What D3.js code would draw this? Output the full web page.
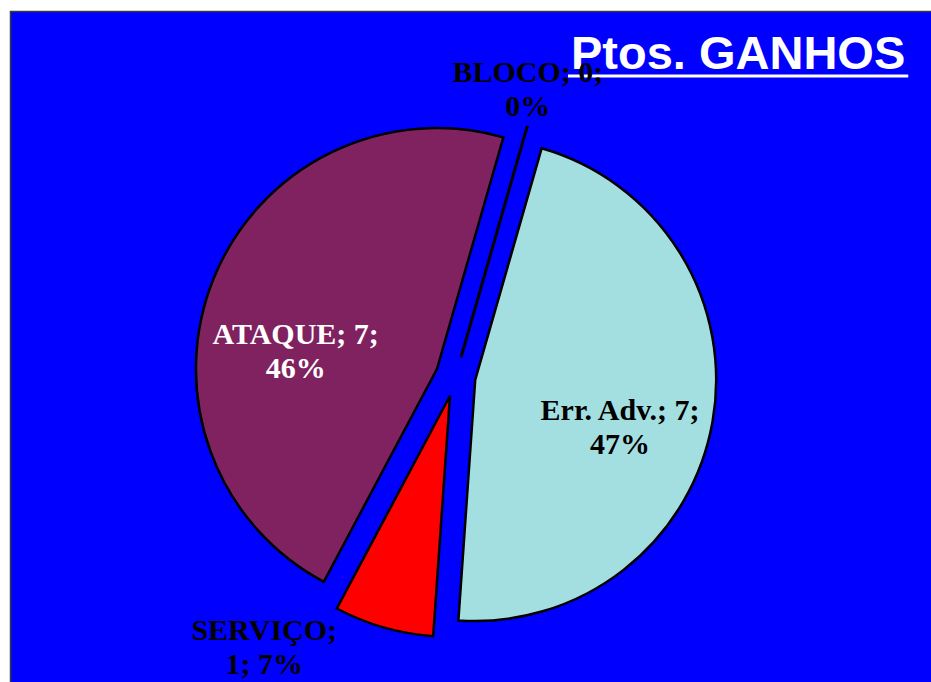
<!DOCTYPE html>
<html>
<head>
<meta charset="utf-8">
<script src="https://cdn.jsdelivr.net/npm/d3@7"></script>
<style>
  html, body { margin: 0; padding: 0; background: #ffffff; overflow: hidden; }
  svg { display: block; }
</style>
</head>
<body>
<svg id="chart" width="931" height="682"></svg>
<script>
// Points won, by origin
const categories = ["BLOCO", "Err. Adv.", "SERVIÇO", "ATAQUE"];
const values = [0, 7, 1, 7];
const percentLabels = ["0%", "47%", "7%", "46%"];
// how many words of each data label sit on its first line
const firstLineWords = [2, 3, 1, 2];

const sliceColors = ["#808080", "#a3dfe0", "#ff0000", "#7f225f"];
const labelColors = ["#000000", "#000000", "#000000", "#ffffff"];
// label anchor: [degrees clockwise from 12 o'clock, distance from pie centre]
const labelAnchor = [[14.1, 297], [106.9, 172], [215.3, 331], [279.4, 162]];

const W = 931, H = 682;
const cx = 455.5, cy = 376.5, radius = 241;
const explodeDist = 20;
const startDeg = 16;

const svg = d3.select("#chart");

// panel
svg.append("rect")
  .attr("x", 10.5).attr("y", 11.5)
  .attr("width", W).attr("height", H)
  .attr("fill", "#0000ff")
  .attr("stroke", "#3a3a3a")
  .attr("stroke-width", 1.5);

const rows = categories.map((c, i) => ({
  category: c, value: values[i], pct: percentLabels[i], i
}));

const pie = d3.pie()
  .value(d => d.value)
  .sort(null)
  .startAngle(startDeg * Math.PI / 180)
  .endAngle(startDeg * Math.PI / 180 + 2 * Math.PI);

const arcs = pie(rows);
const arc = d3.arc().innerRadius(0).outerRadius(radius);

const g = svg.append("g").attr("transform", `translate(${cx},${cy})`);

arcs.forEach(a => {
  const i = a.data.i;
  const mid = (a.startAngle + a.endAngle) / 2;
  const [ox, oy] = d3.pointRadial(mid, explodeDist);
  const sg = g.append("g").attr("transform", `translate(${ox},${oy})`);
  if (a.endAngle - a.startAngle < 1e-6) {
    // an empty slice shows only as its edge
    const [ex, ey] = d3.pointRadial(a.startAngle, radius);
    sg.append("line")
      .attr("x1", 0).attr("y1", 0)
      .attr("x2", ex).attr("y2", ey)
      .attr("stroke", "#000")
      .attr("stroke-width", 3);
  } else {
    sg.append("path")
      .attr("d", arc(a))
      .attr("fill", sliceColors[i])
      .attr("stroke", "#000")
      .attr("stroke-width", 2.5)
      .attr("stroke-linejoin", "miter");
  }
});

// title
const title = svg.append("text")
  .attr("x", 571).attr("y", 69)
  .attr("fill", "#ffffff")
  .attr("font-family", "'Liberation Sans', Arial, sans-serif")
  .attr("font-weight", "bold")
  .attr("font-size", 47)
  .text("Ptos. GANHOS");
const tb = title.node().getBBox();
svg.append("line")
  .attr("x1", tb.x - 3).attr("x2", tb.x + tb.width + 3)
  .attr("y1", 76).attr("y2", 76)
  .attr("stroke", "#ffffff")
  .attr("stroke-width", 3);

// data labels
const lineH = 34;
arcs.forEach(a => {
  const i = a.data.i;
  const words = `${a.data.category}; ${a.data.value}; ${a.data.pct}`.split(" ");
  const lines = [
    words.slice(0, firstLineWords[i]).join(" "),
    words.slice(firstLineWords[i]).join(" ")
  ];
  const [ang, dist] = labelAnchor[i];
  const [lx, ly] = d3.pointRadial(ang * Math.PI / 180, dist);
  const t = svg.append("text")
    .attr("text-anchor", "middle")
    .attr("font-family", "'Liberation Serif', 'Times New Roman', serif")
    .attr("font-weight", "bold")
    .attr("font-size", 30)
    .attr("fill", labelColors[i]);
  lines.forEach((s, k) => {
    t.append("tspan")
      .attr("x", cx + lx)
      .attr("y", cy + ly + (k - 0.5) * lineH + 10.5)
      .text(s);
  });
});
</script>
</body>
</html>
